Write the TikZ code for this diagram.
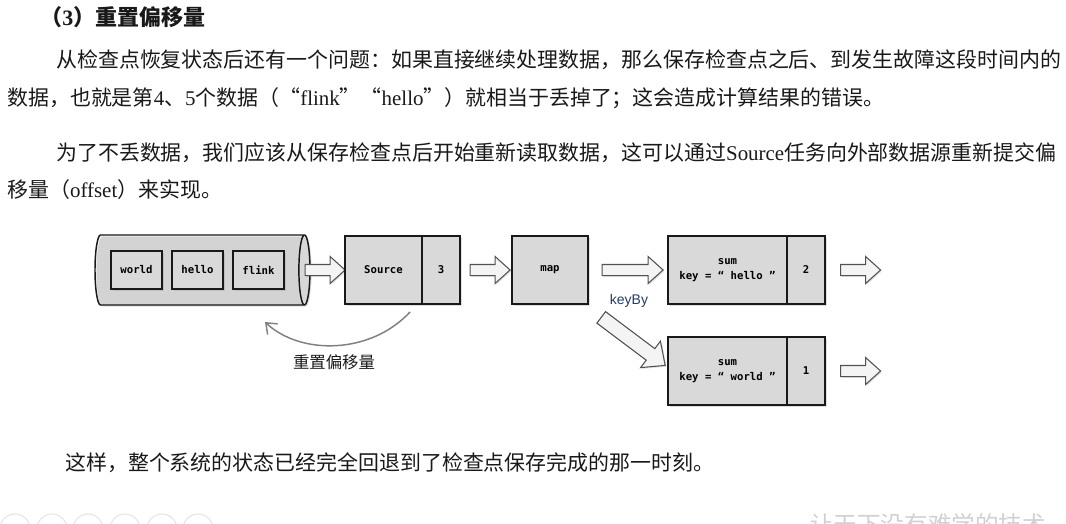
\documentclass[tikz,border=0pt]{standalone}
\usepackage{fontspec}
\setmainfont{Liberation Serif}
\newfontfamily\cjk{Noto Sans CJK SC}
\newfontfamily\code{DejaVu Sans Mono}
\newfontfamily\arial{Liberation Sans}
\usetikzlibrary{arrows.meta,positioning,shapes.geometric,shapes.arrows,shadows,calc}
\XeTeXlinebreaklocale "zh"
\XeTeXlinebreakskip=0pt plus 1pt
\newcommand\zh[1]{{\cjk #1}}
\definecolor{boxgray}{RGB}{217,217,217}
\definecolor{pipegray}{RGB}{240,240,240}
\definecolor{navy}{RGB}{38,60,108}
\definecolor{ink}{RGB}{25,25,25}
\tikzset{
  para/.style={anchor=west,inner sep=0pt,text=ink,font=\fontsize{15.7pt}{18pt}\selectfont},
  box/.style={draw=ink,fill=boxgray,line width=1.1pt,outer sep=0pt,inner sep=0pt,
    minimum height=51pt,align=center,font=\code\bfseries\fontsize{8pt}{11.25pt}\selectfont,
    drop shadow={shadow xshift=1.2pt,shadow yshift=-1.2pt,opacity=0.25}},
  item/.style={box,minimum width=38.25pt,minimum height=28.5pt},
  pipe/.style={cylinder,draw=ink,line width=1.1pt,aspect=1.25,cylinder uses custom fill,
    cylinder body fill=pipegray,cylinder end fill=pipegray!60!white,
    drop shadow={shadow xshift=1.2pt,shadow yshift=-1.2pt,opacity=0.25}},
  fat/.style={single arrow,draw=ink!75,fill=pipegray!70!white,line width=0.8pt,
    inner sep=3.75pt,single arrow head extend=6pt,single arrow tip angle=84,
    minimum height=30pt,drop shadow={shadow xshift=1pt,shadow yshift=-1pt,opacity=0.2}},
  reset/.style={-{Straight Barb[length=7pt,width=11pt]},draw=black!50,line width=1.1pt},
}
\begin{document}
\begin{tikzpicture}[x=0.75pt,y=-0.75pt]
  \useasboundingbox (0,0) rectangle (1066,524);
  \clip (0,0) rectangle (1066,524);
  \fill[white] (0,0) rectangle (1066,524);
  % page text
  \node[para,font=\fontsize{16.5pt}{18pt}\selectfont\bfseries] (title) at (40,17)
    {{\cjk\bfseries （}3{\cjk\bfseries ）重置偏移量}};
  \node[para] (l1) at (56,60) {\makebox[754.5pt][s]{\zh{从检查点恢复状态后还有一个问题：如果直接继续处理数据，那么保存检查点之后、到发生故障这段时间内的}}};
  \node[para] (l2) at (7,98) {\zh{数据，也就是第}4\zh{、}5\zh{个数据（“}flink\zh{”“}hello\zh{”）就相当于丢掉了；这会造成计算结果的错误。}};
  \node[para] (l3) at (56,153) {\makebox[754.5pt][s]{\zh{为了不丢数据，我们应该从保存检查点后开始重新读取数据，这可以通过}Source\zh{任务向外部数据源重新提交偏}}};
  \node[para] (l4) at (7,190) {\zh{移量（}offset\zh{）来实现。}};
  \node[para] (l5) at (65,463) {\zh{这样，整个系统的状态已经完全回退到了检查点保存完成的那一时刻。}};
  % diagram
  \node[pipe,minimum width=52.5pt,minimum height=161.25pt] (queue) at (198,270) {};
  \node[item] (world) at (136.5,270) {world};
  \node[item,right=7.5pt of world] (hello) {hello};
  \node[item,right=7.5pt of hello] (flink) {flink};
  \node[fat] (toSrc) at (322,270) {};
  \node[box,minimum width=57.75pt] (src) at (383.5,270) {Source};
  \node[box,minimum width=28.5pt,right=0pt of src] (srcn) {3};
  \node[fat] (toMap) at (487,270) {};
  \node[box,minimum width=57pt] (map) at (550,270) {map};
  \node[fat,minimum height=45.75pt] (toSumA) at (629.5,270) {};
  \node[box,minimum width=89.25pt] (sumA) at (727.5,270) {sum\\key = “ hello ”};
  \node[box,minimum width=28.5pt,right=0pt of sumA] (sumAn) {2};
  \node[fat] (outA) at (857.5,270) {};
  \node[fat,inner sep=5pt,single arrow head extend=7pt,minimum height=60pt,rotate=-36.9] (toSumB) at (630,339) {};
  \node[box,minimum width=89.25pt] (sumB) at (727.5,371) {sum\\key = “ world ”};
  \node[box,minimum width=28.5pt,right=0pt of sumB] (sumBn) {1};
  \node[fat] (outB) at (857.5,371) {};
  \node[font=\arial\fontsize{10.5pt}{12pt}\selectfont,text=navy] (keyby) at (629,301) {keyBy};
  \coordinate (rs) at ([xshift=-9pt,yshift=-6pt]src.south east);
  \coordinate (re) at (265,322);
  \draw[reset] (rs) .. controls (370,355) and (300,355) .. (re);
  \node[font=\cjk\fontsize{12.3pt}{14pt}\selectfont,text=ink] (resetlbl) at (334,362) {重置偏移量};
  % faint page marks
  \foreach \cx in {15,52,88,125,162,198}
    \draw[black!10,line width=0.8pt] (\cx,529) circle (15);
  \node[font=\cjk\fontsize{17.7pt}{20pt}\selectfont,text=black!18] (mark) at (928,524) {让天下没有难学的技术};
\end{tikzpicture}
\end{document}
